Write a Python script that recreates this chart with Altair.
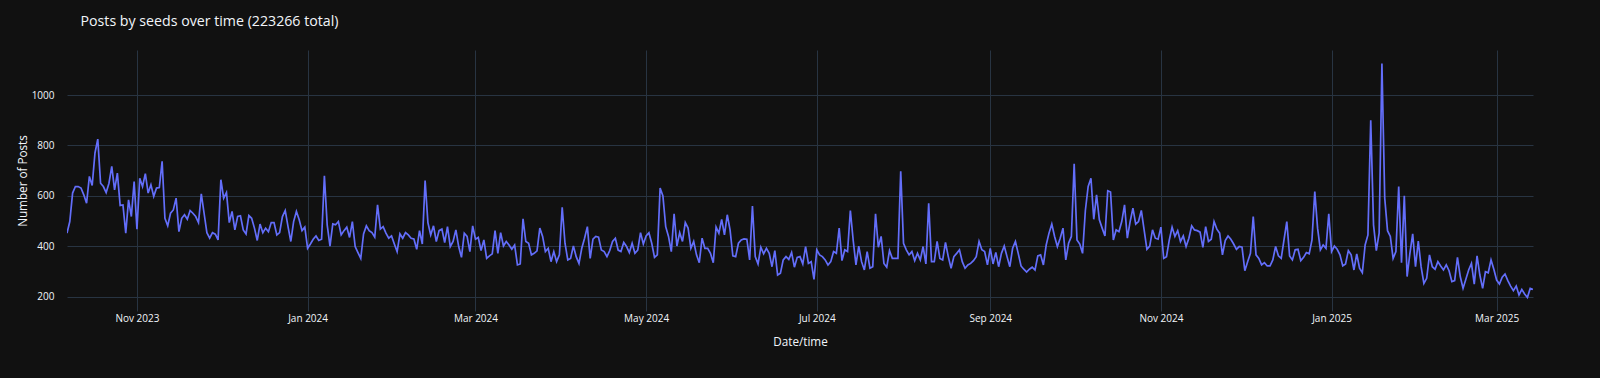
import altair as alt
import pandas as pd

# Daily post counts (starting 2023-10-07)
start_date = "2023-10-07"
values = [
    452, 498, 611, 637, 637, 631, 604, 571, 677, 641, 770, 825, 650, 637, 613, 650, 717, 624, 690, 562,
    564, 452, 584, 518, 657, 468, 670, 637, 688, 611, 644, 598, 631, 633, 737, 511, 481, 531, 544, 591,
    458, 511, 525, 507,
    542, 531, 518, 494, 608, 531, 454, 432, 454, 448, 425, 664, 591, 613, 494, 538, 465, 518, 521, 465,
    449, 522, 511, 472, 423, 488, 454, 472, 458, 494, 494, 445, 454, 518, 542, 478, 419, 498, 538, 505,
    462, 476, 392, 409, 428,
    441, 423, 428, 680, 485, 401, 489, 485, 498, 445, 462, 476, 435, 498, 399, 375, 352, 449, 481, 462,
    454, 436, 564, 468, 478, 452, 432, 441, 409, 379, 449, 432, 454, 445, 432, 429, 388, 462, 409, 661,
    494, 445, 481, 419, 462,
    468, 415, 478, 399, 419, 465, 399, 356, 452, 439, 379, 481, 428, 435, 383, 425, 352, 362, 370, 462,
    372, 454, 401, 419, 405, 388, 405, 326, 330, 509, 419, 412, 366, 372, 382, 472, 439, 379, 392, 339,
    379, 339, 366, 555,
    412, 346, 352, 401, 359, 332, 392, 432, 478, 352, 428, 439, 436, 385, 379, 359, 383, 419, 432, 385,
    379, 415, 399, 375, 412, 372, 385, 454, 409, 441, 454, 412, 356, 366, 631, 600, 478, 439, 379, 529,
    401, 454, 419, 494, 472,
    392, 419, 366, 335, 432, 392, 392, 372, 335, 476, 452, 507, 445, 525, 465, 362, 359, 412, 425, 429,
    428, 346, 560, 359, 330, 396, 370, 392, 372, 319, 383, 286, 293, 346, 359, 348, 375, 317, 356, 359,
    330, 399, 332, 339, 269,
    386, 366, 359, 346, 326, 339, 379, 372, 472, 343, 386, 379, 542, 425, 326, 401, 339, 306, 379, 313,
    319, 529, 396, 439, 332, 317, 383, 352, 352, 352, 697, 412, 386, 366, 379, 343, 372, 346, 399, 330,
    571, 339, 339, 419,
    352, 346, 415, 359, 313, 359, 372, 386, 339, 313, 326, 332, 343, 359, 419, 386, 379, 326, 392, 330,
    376, 319, 372, 401, 359, 319, 392, 419, 372, 322, 309, 298, 309, 317, 306, 362, 366, 326, 405, 452,
    488, 439, 399, 432,
    472, 346, 412, 439, 727, 425, 409, 372, 542, 637, 670, 507, 604, 505, 472, 441, 620, 615, 425, 465,
    458, 498, 564, 432, 498, 551, 488, 498, 542, 465, 388, 401, 465, 432, 428, 476, 352, 359, 425, 476,
    439, 462, 419, 441, 399,
    432, 481, 465, 462, 456, 396, 478, 419, 428, 498, 468, 452, 366, 423, 441, 428, 409, 388, 399, 396,
    303, 339, 372, 518, 366, 352, 326, 335, 322, 322, 346, 399, 362, 352, 425, 498, 362, 346, 386, 388,
    343, 356, 375, 370, 425,
    617, 472, 386, 405, 392, 529, 379, 401, 388, 366, 322, 330, 383, 366, 306, 370, 313, 295, 405, 445,
    900, 485, 383, 452, 1125, 591, 462, 439, 352, 379, 637, 335, 600, 280, 372, 449, 319, 421, 319,
    253, 273, 366, 319, 309, 339, 322, 306, 326, 303, 260, 264, 356, 280, 233, 269, 306, 332, 250, 362,
    286, 233, 299, 295, 346, 309, 266, 250, 277, 290, 264, 242, 224, 242, 207, 229, 211, 197, 233, 229,
]

tick_months = [(2023, 11), (2024, 1), (2024, 3), (2024, 5), (2024, 7), (2024, 9),
               (2024, 11), (2025, 1), (2025, 3)]
y_ticks = [200, 400, 600, 800, 1000]
title_text = "Posts by seeds over time (223266 total)"

dates = pd.date_range(start_date, periods=len(values), freq="D")
df = pd.DataFrame({"date": dates.strftime("%Y-%m-%d"), "posts": values})

first, last = dates[0], dates[-1]
x_domain = [
    alt.DateTime(year=first.year, month=first.month, date=first.day, utc=True),
    alt.DateTime(year=last.year, month=last.month, date=last.day, utc=True),
]
x_values = [alt.DateTime(year=y, month=m, date=1, utc=True) for y, m in tick_months]

FONT = "Open Sans"
TXT = "#f2f5fa"
GRID = "#283442"

chart = (
    alt.Chart(df)
    .mark_line(color="#636efa", strokeWidth=1.7, clip=True)
    .encode(
        x=alt.X(
            "date:T",
            scale=alt.Scale(type="utc", domain=x_domain, nice=False),
            axis=alt.Axis(
                title="Date/time", values=x_values, format="%b %Y",
                labelOverlap=False, labelFlush=False, labelPadding=2, titlePadding=13,
            ),
        ),
        y=alt.Y(
            "posts:Q",
            scale=alt.Scale(domain=[143.3, 1178.5], nice=False, zero=False),
            axis=alt.Axis(
                title="Number of Posts", values=y_ticks, format="d",
                labelPadding=13, titlePadding=3,
            ),
        ),
    )
    .properties(
        width=1466,
        height=261,
        title=alt.TitleParams(
            text=title_text, anchor="start", frame="group", dx=13.5, offset=21,
            fontSize=14.2, font=FONT, color=TXT, fontWeight="normal",
        ),
        padding={"left": 67, "top": 50, "right": 67, "bottom": 67},
        autosize=alt.AutoSizeParams(type="none"),
        background="#111111",
    )
    .configure_view(stroke=None, fill="#111111")
    .configure_axis(
        gridColor=GRID, gridWidth=1, domain=False, ticks=False,
        labelColor=TXT, labelFont=FONT, labelFontSize=10,
        titleColor=TXT, titleFont=FONT, titleFontSize=11.7, titleFontWeight="normal",
    )
)

chart.save("out.html", embed_options={"renderer": "svg", "actions": False})
